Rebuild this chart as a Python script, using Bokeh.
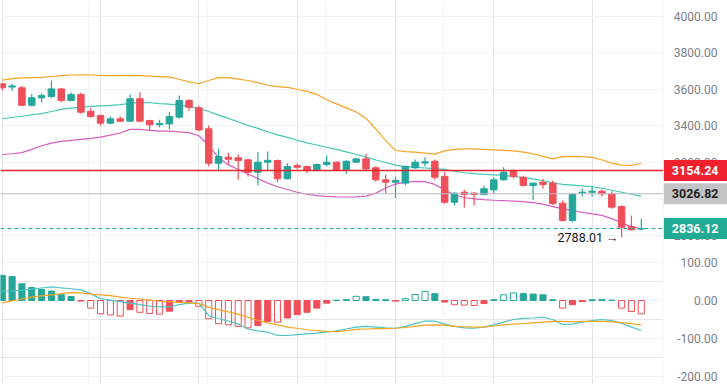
from bokeh.plotting import figure
from bokeh.models import Range1d, FixedTicker, Grid, Span, Label, ColumnDataSource
from bokeh.layouts import column, row
from bokeh.embed import file_html
from bokeh.resources import INLINE
from bokeh.core.properties import value

# ---------------- data ----------------
opens = [3630, 3612, 3608, 3512, 3553, 3560, 3602, 3538, 3571, 3479, 3456, 3414, 3438, 3425, 3548, 3428,
         3405, 3410, 3447, 3538, 3498, 3383, 3194, 3227, 3224, 3213, 3145, 3200, 3209, 3109, 3181, 3176,
         3154, 3187, 3200, 3160, 3200, 3218, 3169, 3103, 3090, 3085, 3169, 3195, 3205, 3121, 2980, 3035,
         3030, 3023, 3048, 3103, 3150, 3117, 3072, 3090, 3085, 2975, 2880, 3030, 3035, 3041, 3026, 2957,
         2847, 2833]
highs = [3636, 3630, 3618, 3575, 3578, 3648, 3606, 3584, 3582, 3498, 3460, 3450, 3452, 3571, 3584, 3432,
         3432, 3474, 3566, 3547, 3510, 3401, 3273, 3251, 3242, 3218, 3255, 3259, 3214, 3194, 3194, 3180,
         3192, 3236, 3203, 3210, 3224, 3246, 3180, 3132, 3121, 3181, 3214, 3227, 3214, 3145, 3035, 3048,
         3035, 3072, 3117, 3172, 3160, 3126, 3085, 3108, 3099, 2990, 3030, 3054, 3067, 3050, 3041, 2962,
         2907, 2889]
lows = [3593, 3590, 3508, 3505, 3527, 3553, 3529, 3535, 3465, 3443, 3401, 3408, 3420, 3420, 3419, 3377,
        3392, 3380, 3440, 3480, 3370, 3176, 3154, 3187, 3103, 3121, 3072, 3154, 3090, 3105, 3163, 3140,
        3150, 3176, 3150, 3136, 3195, 3158, 3092, 3030, 3004, 3072, 3164, 3176, 3103, 2972, 2962, 2950,
        2962, 3018, 3026, 3100, 3110, 3066, 2993, 3054, 2966, 2875, 2870, 3012, 3012, 3012, 2945, 2788.01,
        2825, 2825]
closes = [3608, 3618, 3512, 3553, 3565, 3602, 3538, 3571, 3474, 3450, 3414, 3438, 3425, 3548, 3425, 3405,
          3412, 3450, 3538, 3501, 3377, 3194, 3231, 3216, 3209, 3145, 3200, 3210, 3109, 3176, 3172, 3154,
          3187, 3200, 3160, 3205, 3218, 3163, 3103, 3090, 3100, 3176, 3200, 3202, 3117, 2980, 3030, 3023,
          3023, 3054, 3103, 3145, 3121, 3072, 3085, 3077, 2972, 2880, 3023, 3035, 3041, 3026, 2953, 2843,
          2829, 2836.12]

bb_upper = [3650, 3658, 3662, 3664, 3665, 3670, 3675, 3678, 3679, 3678, 3676, 3675, 3675, 3676, 3675, 3672,
            3669, 3666, 3655, 3640, 3630, 3648, 3664, 3664, 3656, 3648, 3636, 3622, 3614, 3610, 3600, 3588,
            3572, 3542, 3520, 3498, 3475, 3440, 3382, 3318, 3264, 3258, 3255, 3250, 3244, 3262, 3270, 3273,
            3273, 3270, 3267, 3265, 3262, 3255, 3246, 3232, 3218, 3230, 3232, 3230, 3226, 3212, 3195, 3184,
            3182, 3194]
bb_middle = [3438, 3445, 3452, 3460, 3466, 3478, 3490, 3496, 3502, 3506, 3509, 3512, 3516, 3522, 3528, 3526,
             3521, 3518, 3512, 3505, 3495, 3478, 3458, 3440, 3420, 3402, 3385, 3367, 3350, 3336, 3320, 3306,
             3294, 3282, 3270, 3256, 3242, 3228, 3212, 3198, 3184, 3176, 3171, 3168, 3165, 3160, 3150, 3142,
             3137, 3133, 3130, 3127, 3122, 3115, 3108, 3098, 3086, 3078, 3074, 3070, 3065, 3057, 3046, 3035,
             3024, 3012]
bb_lower = [3242, 3246, 3252, 3270, 3290, 3304, 3314, 3320, 3325, 3330, 3337, 3348, 3360, 3380, 3380, 3374,
            3370, 3370, 3366, 3362, 3345, 3290, 3225, 3185, 3160, 3135, 3110, 3085, 3065, 3050, 3035, 3024,
            3016, 3012, 3010, 3009, 3010, 3014, 3030, 3058, 3080, 3090, 3095, 3093, 3078, 3048, 3020, 3006,
            2999, 2994, 2991, 2989, 2986, 2983, 2978, 2970, 2956, 2945, 2935, 2925, 2916, 2908, 2890, 2868,
            2845, 2834]

macd_hist = [66, 63, 44, 34, 29, 25, 15, 10.5, -1.5, -20, -35, -38, -41, -24, -31, -34,
             -36, -28, -5, -3, -15, -48, -61, -64, -68, -72, -66, -55, -57, -46, -37, -31,
             -20, -7, 1, 3, 11, 10, 3, 2, -1.5, 5, 16, 24, 18, -4, -11, -12,
             -13, -8, 2, 15, 20, 18, 17, 15, 2, -20, -11, -3, 2, 3, 1, -20,
             -29, -35]
macd_line = [24, 25, 27, 30, 33, 36, 33, 31, 28, 18, 5, 1, -3, -7, -11, -15,
             -17, -17, -11, -7, -7, -40, -48, -54, -62, -75, -80, -83, -92, -92, -90, -88,
             -86, -83, -80, -75, -70, -68, -70, -72, -73, -68, -61, -54, -54, -62, -68, -72,
             -73, -70, -64, -57, -50, -47, -46, -44, -50, -63, -62, -57, -53, -50, -53, -60,
             -70, -79]
signal_line = [-6, -1, 4, 9, 12, 15, 18, 21, 20, 17, 15, 13, 9, 6, 4, 1,
               -2, -3, -5, -6, -8, -18, -24, -30, -36, -44, -52, -59, -64, -70, -73, -77,
               -79, -81, -82, -79, -76, -75, -74, -74, -73, -71, -68, -65, -64, -65, -68, -69,
               -70, -70, -67, -64, -62, -61, -59, -57, -55, -55, -56, -55, -55, -55, -56, -58,
               -61, -64]

resistance_level = 3154.24
mid_level = 3026.82
last_price = closes[-1]
period_low = min(lows)
low_index = lows.index(period_low)

price_ticks = [2800, 3000, 3200, 3400, 3600, 3800, 4000]
macd_ticks = [-200, -100, 0, 100]
day_marks = [8.8, 20.85, 32.9, 44.9]

# ---------------- style ----------------
GREEN = "#26a69a"
RED = "#ef4f59"
GRID = "#f2f3f5"
AXIS_TXT = "#7b7e87"
FONT = "Roboto"
SCALE_W = 64
MAIN_W = 663

x = list(range(len(closes)))
x_range = Range1d(-0.18, 67.26)


def main_fig(h, yr, ticks):
    p = figure(width=MAIN_W, height=h, output_backend="svg", toolbar_location=None,
               x_range=x_range, y_range=yr, x_axis_location=None, y_axis_location=None,
               min_border_left=0, min_border_right=0, min_border_top=0, min_border_bottom=0)
    p.outline_line_color = None
    p.add_layout(Grid(dimension=1, ticker=FixedTicker(ticks=ticks), grid_line_color=GRID))
    p.add_layout(Grid(dimension=0, ticker=FixedTicker(ticks=day_marks), grid_line_color=GRID))
    return p


def scale_fig(h, yr, ticks):
    s = figure(width=SCALE_W, height=h, output_backend="svg", toolbar_location=None,
               x_range=Range1d(0, SCALE_W), y_range=yr, x_axis_location=None, y_axis_location=None,
               min_border_left=0, min_border_right=0, min_border_top=0, min_border_bottom=0)
    s.outline_line_color = None
    s.grid.visible = False
    s.add_layout(Span(location=0, dimension="height", line_color="#eceef2", line_width=1))
    s.text(x=[SCALE_W - 10] * len(ticks), y=ticks, text=[f"{t:.2f}" for t in ticks],
           text_align="right", text_baseline="middle", text_color=AXIS_TXT,
           text_font=value(FONT), text_font_size="12px")
    return s


# ---------------- price pane ----------------
y1 = Range1d(2715.4, 4086.8)
p1 = main_fig(250, y1, price_ticks)
s1 = scale_fig(250, y1, price_ticks)

p1.line(x, bb_upper, line_color="#f5a524", line_width=1.2)
p1.line(x, bb_middle, line_color="#45c7b4", line_width=1.2)
p1.line(x, bb_lower, line_color="#d65ec0", line_width=1.2)

colors = [GREEN if c >= o else RED for o, c in zip(opens, closes)]
src = ColumnDataSource(dict(x=x, o=opens, h=highs, l=lows, c=closes, color=colors,
                            top=[max(o, c) for o, c in zip(opens, closes)],
                            bottom=[min(o, c) for o, c in zip(opens, closes)]))
p1.segment(x0="x", y0="l", x1="x", y1="h", line_color="color", line_width=1.2, source=src)
p1.vbar(x="x", width=0.66, top="top", bottom="bottom", fill_color="color", line_color="color", source=src)

p1.add_layout(Span(location=resistance_level, dimension="width", line_color="#e3242f", line_width=1.5))
p1.add_layout(Span(location=mid_level, dimension="width", line_color="#b9bcc4", line_width=1))
p1.add_layout(Span(location=last_price, dimension="width", line_color=GREEN, line_width=1,
                   line_dash="4 3"))

p1.add_layout(Label(x=low_index, y=period_low, x_offset=-3, text=f"{period_low:.2f} \u2192",
                    text_align="right", text_baseline="middle", text_color="#131722",
                    text_font=FONT, text_font_size="12.5px"))

tag_levels = [resistance_level, mid_level, last_price]
tag_fill = ["#f0202e", "#c4c4c6", "#22ab94"]
tag_text = ["white", "#1e1e1e", "white"]
s1.rect(x=[SCALE_W / 2] * 3, y=tag_levels, width=SCALE_W, height=21, height_units="screen",
        fill_color=tag_fill, line_color=None)
s1.text(x=[SCALE_W - 9] * 3, y=tag_levels, text=[f"{v:.2f}" for v in tag_levels],
        text_align="right", text_baseline="middle", text_color=tag_text,
        text_font=value(FONT), text_font_size="12.5px", text_font_style="bold")

# ---------------- MACD pane ----------------
y2 = Range1d(-221, 131.6)
p2 = main_fig(134, y2, macd_ticks)
s2 = scale_fig(134, y2, macd_ticks)

hcol = [GREEN if v >= 0 else RED for v in macd_hist]
hfill = []
for i, v in enumerate(macd_hist):
    growing = i > 0 and abs(v) > abs(macd_hist[i - 1])
    hfill.append("white" if growing else hcol[i])
hsrc = ColumnDataSource(dict(x=x, top=macd_hist, line=hcol, fill=hfill))
p2.vbar(x="x", width=0.62, top="top", bottom=0, fill_color="fill", line_color="line",
        line_width=1, source=hsrc)
p2.line(x, macd_line, line_color="#4cc3c6", line_width=1.2)
p2.line(x, signal_line, line_color="#f5a524", line_width=1.2)

layout = column(row(p1, s1, spacing=0), row(p2, s2, spacing=0), spacing=0)
open("out.html", "w").write(file_html(layout, INLINE))
